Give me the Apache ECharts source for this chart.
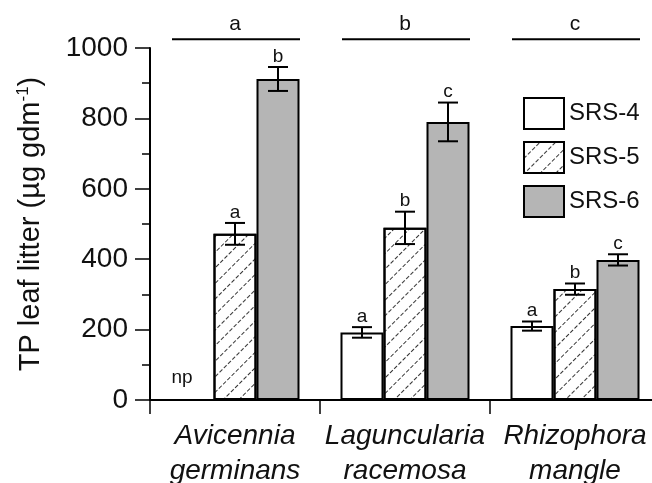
<!DOCTYPE html>
<html>
<head>
<meta charset="utf-8">
<script src="https://cdn.jsdelivr.net/npm/echarts@6/dist/echarts.min.js"></script>
<style>
  html, body { margin: 0; padding: 0; background: #fff; }
  #chart { width: 652px; height: 483px; }
</style>
</head>
<body>
<div id="chart"></div>
<script>
// categories and values
const species = ["Avicennia\ngerminans", "Laguncularia\nracemosa", "Rhizophora\nmangle"];
const seriesNames = ["SRS-4", "SRS-5", "SRS-6"];
const srs4 = [null, 192, 210];
const srs5 = [472, 489, 315];
const srs6 = [912, 790, 398];
// +/- error
const err4 = [null, 15, 13];
const err5 = [31, 46, 16];
const err6 = [34, 55, 16];
// significance letters
const letters4 = ["np", "a", "a"];
const letters5 = ["a", "b", "b"];
const letters6 = ["b", "c", "c"];
const groupLetters = ["a", "b", "c"];
const yTicks = [0, 200, 400, 600, 800, 1000];

const font = "'Liberation Sans', Arial, sans-serif";
const BAR_W = 43;

const means = [srs4, srs5, srs6];
const errs = [err4, err5, err6];
const letters = [letters4, letters5, letters6];

// error-bar rows: [category, series index, low, high]
const errRows = [];
const errLetters = [];
for (let s = 0; s < 3; s++) {
	for (let c = 0; c < species.length; c++) {
		const m = means[s][c];
		const e = errs[s][c];
		if (m == null) {
			errRows.push([c, s, 0, 0]);
		} else {
			errRows.push([c, s, m - e, m + e]);
		}
		errLetters.push(letters[s][c]);
	}
}

const chart = echarts.init(document.getElementById("chart"));

chart.setOption({
	animation: false,
	textStyle: { fontFamily: font, color: "#000" },
	grid: { left: 150, right: -8, top: 48, bottom: 83, containLabel: false, outerBoundsMode: "none" },
	legend: {
		data: seriesNames,
		orient: "vertical",
		left: 518,
		top: 92,
		itemWidth: 40,
		itemHeight: 31,
		itemGap: 11,
		icon: "rect",
		textStyle: { fontSize: 24, color: "#111", fontFamily: font },
	},
	xAxis: {
		type: "category",
		data: species,
		axisLine: { lineStyle: { color: "#000", width: 2 } },
		axisTick: { show: true, length: 14, lineStyle: { color: "#000", width: 1.5 } },
		axisLabel: {
			fontSize: 28,
			fontStyle: "italic",
			color: "#111",
			lineHeight: 35,
			margin: 19,
			interval: 0,
		},
	},
	yAxis: {
		type: "value",
		min: 0,
		max: 1000,
		interval: 200,
		name: "{n|TP leaf litter (µg gdm}{s|-1}{n|)}",
		nameLocation: "middle",
		nameGap: 104,
		nameTextStyle: {
			rich: {
				n: { fontSize: 29, color: "#111", fontFamily: font },
				s: { fontSize: 17, color: "#111", fontFamily: font, verticalAlign: "top", padding: [0, 0, 14, 0] },
			},
		},
		axisLine: { show: true, lineStyle: { color: "#000", width: 2 } },
		axisTick: { show: true, length: 15, lineStyle: { color: "#000", width: 1.5 } },
		minorTick: { show: true, splitNumber: 2, length: 8, lineStyle: { color: "#000", width: 1.5 } },
		splitLine: { show: false },
		axisLabel: {
			fontSize: 28,
			color: "#111",
			margin: 22,
			customValues: yTicks,
			formatter: function (v) { return String(v); },
		},
	},
	series: [
		{
			name: "SRS-4",
			type: "bar",
			data: srs4,
			barWidth: BAR_W,
			barGap: "0%",
			itemStyle: { color: "#fff", borderColor: "#000", borderWidth: 2 },
		},
		{
			name: "SRS-5",
			type: "bar",
			data: srs5,
			barWidth: BAR_W,
			barGap: "0%",
			itemStyle: {
				color: "#fff",
				borderColor: "#000",
				borderWidth: 2,
				decal: {
					symbol: "rect",
					symbolSize: 1,
					color: "rgba(30,30,30,0.9)",
					dashArrayX: [[4, 2]],
					dashArrayY: [1, 10],
					rotation: -Math.PI / 4,
				},
			},
		},
		{
			name: "SRS-6",
			type: "bar",
			data: srs6,
			barWidth: BAR_W,
			barGap: "0%",
			itemStyle: { color: "#b5b5b5", borderColor: "#000", borderWidth: 2 },
		},
		{
			// error bars + letters over each bar
			type: "custom",
			data: errRows,
			encode: { x: 0, y: [2, 3] },
			z: 10,
			renderItem: function (params, api) {
				const cat = api.value(0);
				const s = api.value(1);
				const lo = api.value(2);
				const hi = api.value(3);
				const letter = errLetters[params.dataIndex];
				const top = api.coord([cat, hi]);
				const bot = api.coord([cat, lo]);
				const x = top[0] + (s - 1) * BAR_W;
				const children = [];
				if (letter === "np") {
					// "not present" note, sits a bit left of the empty slot
					children.push({
						type: "text",
						style: {
							x: x - 10,
							y: top[1] - 13,
							text: letter,
							font: "19px " + font,
							fill: "#111",
							align: "center",
							verticalAlign: "bottom",
						},
					});
					return { type: "group", children: children };
				}
				const st = { stroke: "#000", lineWidth: 2 };
				children.push({ type: "line", shape: { x1: x, y1: top[1], x2: x, y2: bot[1] }, style: st });
				children.push({ type: "line", shape: { x1: x - 10, y1: top[1], x2: x + 10, y2: top[1] }, style: st });
				children.push({ type: "line", shape: { x1: x - 10, y1: bot[1], x2: x + 10, y2: bot[1] }, style: st });
				children.push({
					type: "text",
					style: {
						x: x,
						y: top[1] - 1,
						text: letter,
						font: "19px " + font,
						fill: "#111",
						align: "center",
						verticalAlign: "bottom",
					},
				});
				return { type: "group", children: children };
			},
		},
		{
			// species-level letters over the plot
			type: "custom",
			data: groupLetters.map(function (l, i) { return [i, 1025]; }),
			encode: { x: 0, y: 1 },
			renderItem: function (params, api) {
				const p = api.coord([api.value(0), api.value(1)]);
				return {
					type: "group",
					children: [
						{
							type: "line",
							shape: { x1: p[0] - 63, y1: p[1], x2: p[0] + 65, y2: p[1] },
							style: { stroke: "#000", lineWidth: 2 },
						},
						{
							type: "text",
							style: {
								x: p[0],
								y: p[1] - 4,
								text: groupLetters[params.dataIndex],
								font: "21px " + font,
								fill: "#111",
								align: "center",
								verticalAlign: "bottom",
							},
						},
					],
				};
			},
		},
	],
});
</script>
</body>
</html>
